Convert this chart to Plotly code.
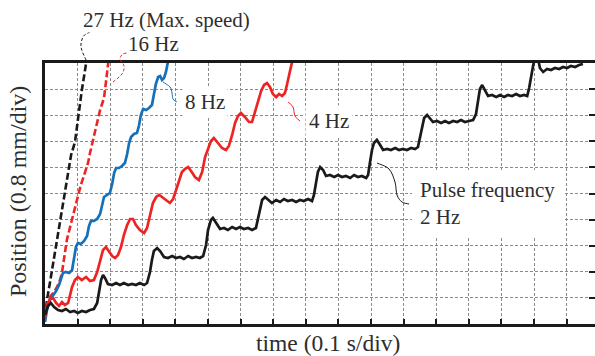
import plotly.graph_objects as go

# ---- data (time in s, position in mm) ----
t_2hz = [0, .009, .018, .028, .040, .052, .064, .077, .089, .101, .113, .126, .138, .150, .160, .166, .172, .178, .184, .193,
         .206, .218, .230, .242, .255, .267, .279, .291, .304, .313, .322, .328, .334, .344, .353, .365, .377, .390, .402, .414,
         .426, .439, .451, .463, .475, .485, .494, .500, .509, .515, .525, .537, .549, .561, .574, .586, .598, .610, .623, .635,
         .647, .653, .660, .666, .675, .684, .696, .709, .721, .733, .745, .758, .770, .782, .794, .807, .819, .825, .831, .837,
         .844, .853, .862, .874, .887, .899, .911, .923, .936, .948, .960, .972, .985, .991, .997, 1.003, 1.009, 1.018, 1.028, 1.037,
         1.049, 1.061, 1.074, 1.086, 1.098, 1.110, 1.123, 1.135, 1.144, 1.150, 1.156, 1.163, 1.172, 1.181, 1.190, 1.202, 1.215, 1.227,
         1.239, 1.252, 1.264, 1.276, 1.288, 1.301, 1.313, 1.322, 1.328, 1.334, 1.341, 1.350, 1.359, 1.371, 1.384, 1.396, 1.408, 1.420,
         1.433, 1.445, 1.457, 1.469, 1.479, 1.485, 1.491, 1.497, 1.503, 1.512, 1.518, 1.528, 1.540, 1.552, 1.564, 1.577, 1.589, 1.601,
         1.613, 1.626, 1.638, 1.650]
y_2hz = [0.276, 0.552, 0.644, 0.521, 0.429, 0.398, 0.460, 0.368, 0.398, 0.337, 0.398, 0.368, 0.429, 0.460, 0.644, 1.042, 1.349, 1.502, 1.410, 1.226,
         1.195, 1.257, 1.195, 1.257, 1.195, 1.226, 1.195, 1.257, 1.195, 1.257, 1.594, 1.962, 2.237, 2.329, 2.237, 2.054, 2.023, 2.084, 2.023, 2.054,
         1.992, 2.084, 2.023, 2.054, 2.023, 2.084, 2.421, 2.881, 3.188, 3.249, 3.096, 2.912, 2.942, 2.881, 2.973, 2.912, 2.973, 2.912, 2.942, 2.881,
         2.942, 3.188, 3.555, 3.801, 3.893, 3.801, 3.709, 3.801, 3.739, 3.831, 3.770, 3.801, 3.739, 3.801, 3.770, 3.831, 3.770, 3.954, 4.322, 4.659,
         4.812, 4.720, 4.536, 4.567, 4.506, 4.567, 4.506, 4.536, 4.475, 4.567, 4.506, 4.536, 4.475, 4.567, 4.965, 5.333, 5.548, 5.640, 5.486, 5.333,
         5.364, 5.333, 5.394, 5.333, 5.364, 5.333, 5.394, 5.364, 5.425, 5.701, 6.069, 6.314, 6.406, 6.283, 6.191, 6.222, 6.161, 6.222,
         6.161, 6.222, 6.191, 6.253, 6.191, 6.222, 6.253, 6.437, 6.866, 7.203, 7.325, 7.172, 6.988, 7.019, 6.958, 7.019, 6.958, 7.019,
         6.988, 7.050, 6.988, 7.019, 6.988, 7.233, 7.601, 7.908, 8.153, 8.153, 7.846, 7.724, 7.816, 7.785, 7.846, 7.816, 7.877, 7.846,
         7.908, 7.877, 7.938, 7.969]

t_4hz = [0, .006, .015, .025, .034, .043, .052, .061, .071, .077, .083, .092, .101, .113, .126, .138, .150, .160, .169, .178,
         .187, .196, .206, .215, .224, .233, .242, .252, .261, .270, .279, .291, .304, .313, .322, .331, .341, .350, .359, .371,
         .383, .393, .402, .411, .420, .429, .439, .448, .460, .472, .482, .491, .500, .509, .518, .531, .543, .555, .564, .574,
         .583, .592, .601, .613, .626, .635, .644, .653, .663, .672, .681, .690, .699, .709, .718, .727, .736, .742, .748, .755, .761]
y_4hz = [0.184, 0.552, 0.766, 0.797, 0.644, 0.552, 0.674, 0.582, 0.644, 0.858, 1.134, 1.349, 1.441, 1.349, 1.441, 1.318, 1.349, 1.594, 1.962, 2.268,
         2.360, 2.237, 2.084, 2.023, 2.115, 2.360, 2.728, 3.034, 3.218, 3.218, 3.034, 2.881, 2.789, 2.942, 3.372, 3.709, 3.893, 3.954, 3.893, 3.801,
         3.709, 3.831, 4.107, 4.414, 4.659, 4.751, 4.812, 4.690, 4.506, 4.414, 4.659, 5.119, 5.394, 5.609, 5.701, 5.548, 5.394, 5.333, 5.456, 5.793,
         6.161, 6.375, 6.467, 6.345, 6.191, 6.191, 6.498, 6.866, 7.142, 7.325, 7.387, 7.264, 7.050, 6.958, 7.050, 6.988, 7.080, 7.325, 7.632, 7.908, 8.153]

t_8hz = [0, .006, .015, .025, .034, .043, .049, .055, .064, .074, .083, .089, .095, .101, .110, .120, .129, .135, .141, .150,
         .160, .169, .175, .181, .190, .199, .206, .212, .218, .227, .236, .245, .252, .258, .264, .273, .282, .288, .294, .301,
         .310, .319, .328, .334, .340, .347, .353, .359, .365, .371, .377, .383]
y_8hz = [0.061, 0.429, 0.736, 0.889, 1.011, 1.195, 1.410, 1.563, 1.594, 1.563, 1.655, 2.023, 2.360, 2.483, 2.452, 2.544, 2.697, 3.004, 3.157, 3.157,
         3.218, 3.372, 3.678, 3.893, 3.954, 4.015, 4.291, 4.628, 4.781, 4.781, 4.843, 4.935, 5.210, 5.548, 5.732, 5.824, 5.854, 6.069, 6.406, 6.590,
         6.559, 6.620, 6.712, 7.019, 7.356, 7.571, 7.601, 7.479, 7.540, 7.724, 8.030, 8.337]

t_16hz = [0, .006, .015, .028, .037, .046, .052, .058, .061, .067, .077, .086, .098, .110, .123, .132, .138, .147, .153, .160,
          .169, .175, .181, .187, .193, .196]
y_16hz = [0.184, 0.582, 0.828, 0.981, 1.134, 1.349, 1.563, 1.900, 2.176, 2.575, 2.973, 3.402, 3.801, 4.260, 4.628, 4.935, 5.241, 5.640, 5.946, 6.161,
          6.559, 6.743, 6.927, 7.417, 7.938, 8.184]

t_27hz = [0, .006, .015, .025, .034, .046, .058, .071, .080, .092, .101, .107, .113, .120, .126, .129]
y_27hz = [0.184, 0.736, 1.257, 1.870, 2.421, 3.188, 3.954, 4.720, 5.180, 5.578, 6.345, 6.774, 7.172, 7.601, 8.000, 8.184]

X_MAX = 1.687   # 0.1 s/div
Y_MAX = 8.0     # 0.8 mm/div

RED = "#ee2424"
BLUE = "#1470b8"
BLACK = "#1a1a1a"
FONT = "Liberation Serif"
TXT = "#2e2e2e"

# ---- geometry (pixels) ----
W, H = 595, 356
L, R, T, B = 45, 595, 63, 324


def px2paper(px, py):
    return (px - L) / (R - L), (B - py) / (B - T)


def smooth_path(pts):
    P = [px2paper(x, y) for x, y in pts]
    d = "M %.5f,%.5f" % P[0]
    for i in range(len(P) - 1):
        p0 = P[i - 1] if i > 0 else P[i]
        p1, p2 = P[i], P[i + 1]
        p3 = P[i + 2] if i + 2 < len(P) else P[i + 1]
        c1 = (p1[0] + (p2[0] - p0[0]) / 6, p1[1] + (p2[1] - p0[1]) / 6)
        c2 = (p2[0] - (p3[0] - p1[0]) / 6, p2[1] - (p3[1] - p1[1]) / 6)
        d += " C %.5f,%.5f %.5f,%.5f %.5f,%.5f" % (c1[0], c1[1], c2[0], c2[1], p2[0], p2[1])
    return d


fig = go.Figure()
fig.add_trace(go.Scatter(x=t_27hz, y=y_27hz, mode="lines", line=dict(color=BLACK, width=2.6, dash="7px,3px")))
fig.add_trace(go.Scatter(x=t_16hz, y=y_16hz, mode="lines", line=dict(color=RED, width=2.6, dash="7px,3px")))
fig.add_trace(go.Scatter(x=t_8hz, y=y_8hz, mode="lines", line=dict(color=BLUE, width=2.7)))
fig.add_trace(go.Scatter(x=t_4hz, y=y_4hz, mode="lines", line=dict(color=RED, width=2.7)))
fig.add_trace(go.Scatter(x=t_2hz, y=y_2hz, mode="lines", line=dict(color=BLACK, width=2.7)))
fig.add_trace(go.Scatter(x=[None], y=[None], yaxis="y2", showlegend=False))

leaders = [
    ([(86, 60), (81, 47), (83, 37), (88, 33), (93, 31)], BLACK, "3px,2px"),
    ([(113, 82), (122, 74), (124, 66), (120, 59), (123, 54), (128, 53)], RED, "3px,2px"),
    ([(163, 82), (170, 87), (172, 93), (173, 99), (177, 102)], BLUE, "solid"),
    ([(288, 102), (293, 107), (295, 116), (300, 121)], RED, "solid"),
    ([(377, 163), (389, 169), (395, 182), (397, 195), (402, 202), (409, 204)], BLACK, "solid"),
]
shapes = []
for pts, col, dash in leaders:
    shapes.append(dict(type="path", xref="paper", yref="paper", path=smooth_path(pts),
                       line=dict(color=col, width=1, dash=dash)))

labels = [
    ("27 Hz (Max. speed)", 82, 20, 0),
    ("16 Hz", 127, 44, 0),
    ("8 Hz", 182, 102, 2),
    ("4 Hz", 305, 121, 3),
]
annotations = []
for txt, px, py, pad in labels:
    x, y = px2paper(px, py)
    annotations.append(dict(text=txt, x=x, y=y, xref="paper", yref="paper", xanchor="left", yanchor="middle",
                            showarrow=False, bgcolor="white", borderpad=pad,
                            font=dict(family=FONT, size=21, color=TXT)))
x, y = px2paper(412, 203)
annotations.append(dict(text="Pulse frequency<br>2 Hz", x=x, y=y, xref="paper", yref="paper",
                        xanchor="left", yanchor="middle", align="left", showarrow=False,
                        bgcolor="white", borderpad=8, borderwidth=0,
                        font=dict(family=FONT, size=21, color=TXT)))
x, y = px2paper(328, 343)
annotations.append(dict(text="time (0.1 s/div)", x=x, y=y, xref="paper", yref="paper", showarrow=False,
                        xanchor="center", yanchor="middle", font=dict(family=FONT, size=23.5, color=TXT)))
x, y = px2paper(18, 192)
annotations.append(dict(text="Position (0.8 mm/div)", x=x, y=y, xref="paper", yref="paper", showarrow=False,
                        textangle=-90, xanchor="center", yanchor="middle",
                        font=dict(family=FONT, size=24, color=TXT)))

grid = dict(showgrid=True, gridcolor="#8a8a8a", gridwidth=1, griddash="3px,2px")
fig.update_layout(
    width=W, height=H, margin=dict(l=L, r=W - R, t=T, b=H - B),
    paper_bgcolor="white", plot_bgcolor="white", showlegend=False,
    xaxis=dict(range=[0, X_MAX], dtick=0.1, tick0=0, showticklabels=False, zeroline=False,
               showline=True, linecolor=BLACK, linewidth=3, mirror=True,
               ticks="inside", ticklen=5, tickwidth=1.5, tickcolor=BLACK, **grid),
    yaxis=dict(range=[0, Y_MAX], dtick=0.8, tick0=0, showticklabels=False, zeroline=False,
               showline=True, linecolor=BLACK, linewidth=3, ticks="", **grid),
    yaxis2=dict(range=[0, Y_MAX], dtick=0.8, tick0=0, overlaying="y", side="right", showticklabels=False,
                showgrid=False, zeroline=False, showline=False, ticks="inside", ticklen=6, tickwidth=1.5,
                tickcolor=BLACK),
    shapes=shapes, annotations=annotations,
)
fig.write_html("out.html")
